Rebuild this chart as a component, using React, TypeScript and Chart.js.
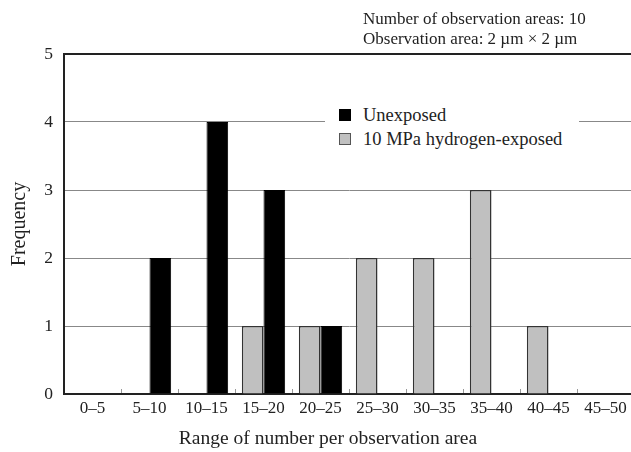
import React, { useEffect, useRef } from "react";
import { Chart, registerables } from "chart.js";

Chart.register(...registerables);

const categories = ["0–5", "5–10", "10–15", "15–20", "20–25", "25–30", "30–35", "35–40", "40–45", "45–50"];
const unexposed = [0, 2, 4, 3, 1, 0, 0, 0, 0, 0];
const hydrogenExposed = [0, 0, 0, 1, 1, 2, 2, 3, 1, 0];
const seriesLabels = ["Unexposed", "10 MPa hydrogen-exposed"];
const infoLines = ["Number of observation areas: 10", "Observation area: 2 µm × 2 µm"];
const yTitle = "Frequency";
const xTitle = "Range of number per observation area";

const FONT = "'Liberation Serif', 'Times New Roman', serif";
const BLACK = "#000000";
const GRAY = "#c0c0c0";

const innerTicks = {
  id: "innerTicks",
  afterDatasetsDraw(chart: any) {
    const x = chart.scales.x;
    const bottom = chart.chartArea.bottom;
    const ctx = chart.ctx;
    ctx.save();
    ctx.strokeStyle = "#999";
    ctx.lineWidth = 1;
    for (let i = 1; i < categories.length; i++) {
      const px = Math.round((x.getPixelForValue(i - 1) + x.getPixelForValue(i)) / 2) + 0.5;
      ctx.beginPath();
      ctx.moveTo(px, bottom - 1);
      ctx.lineTo(px, bottom - 5);
      ctx.stroke();
    }
    ctx.restore();
  },
};

export default function App() {
  const ref = useRef<HTMLCanvasElement>(null);

  useEffect(() => {
    if (!ref.current) return;
    const chart = new Chart(ref.current, {
      type: "bar",
      data: {
        labels: categories,
        datasets: [
          {
            label: seriesLabels[1],
            data: hydrogenExposed,
            backgroundColor: GRAY,
            borderColor: "#333",
            borderWidth: 1.5,
          },
          {
            label: seriesLabels[0],
            data: unexposed,
            backgroundColor: BLACK,
            borderColor: BLACK,
            borderWidth: 1,
          },
        ],
      },
      plugins: [innerTicks],
      options: {
        responsive: false,
        animation: false,
        devicePixelRatio: 1,
        layout: { padding: { top: 54, right: 6, left: 0, bottom: 0 } },
        datasets: { bar: { categoryPercentage: 0.76, barPercentage: 1.0 } },
        plugins: {
          legend: { display: false },
          tooltip: { enabled: false },
        },
        scales: {
          x: {
            grid: { display: false, drawTicks: false },
            border: { display: true, color: "#222", width: 2 },
            ticks: {
              color: "#222",
              font: { family: FONT, size: 17 },
              padding: 4,
              maxRotation: 0,
              autoSkip: false,
            },
            title: { display: false },
            afterFit: (s: any) => {
              s.height = 58;
            },
          },
          y: {
            min: 0,
            max: 5,
            ticks: {
              stepSize: 1,
              color: "#222",
              font: { family: FONT, size: 17.5 },
              padding: 11,
            },
            grid: {
              drawTicks: false,
              color: (c: any) => (c.tick && (c.tick.value === 5 || c.tick.value === 0) ? "#222" : "#888"),
              lineWidth: (c: any) => (c.tick && c.tick.value === 5 ? 2 : 1),
            },
            border: { display: true, color: "#222", width: 2 },
            title: {
              display: true,
              text: yTitle,
              color: "#222",
              font: { family: FONT, size: 20 },
              padding: { top: 8, bottom: 0 },
            },
            afterFit: (s: any) => {
              s.width = 64;
            },
          },
        },
      },
    });
    return () => chart.destroy();
  }, []);

  const textStyle: React.CSSProperties = {
    fontFamily: FONT,
    fontSize: 18.5,
    color: "#222",
    lineHeight: "20px",
    whiteSpace: "nowrap",
  };

  return (
    <div
      style={{
        position: "fixed",
        left: 0,
        top: 0,
        width: 631,
        height: 452,
        overflow: "hidden",
        background: "#fff",
      }}
    >
      <canvas ref={ref} width={640} height={452} style={{ display: "block" }} />
      <div style={{ ...textStyle, fontSize: 17, lineHeight: "20px", position: "absolute", left: 363, top: 9 }}>
        {infoLines.map((l) => (
          <div key={l}>{l}</div>
        ))}
      </div>
      <div
        style={{
          ...textStyle,
          fontSize: 19.5,
          lineHeight: "22px",
          position: "absolute",
          left: 0,
          width: 656,
          top: 427,
          textAlign: "center",
        }}
      >
        {xTitle}
      </div>
      <div
        style={{
          position: "absolute",
          left: 325,
          top: 100,
          width: 254,
          height: 50,
          background: "#fff",
        }}
      >
        {[
          { label: seriesLabels[0], color: BLACK, border: "#000" },
          { label: seriesLabels[1], color: GRAY, border: "#555" },
        ].map((item, i) => (
          <div
            key={item.label}
            style={{ position: "absolute", left: 14, top: 5 + i * 24, display: "flex", alignItems: "center" }}
          >
            <div
              style={{
                width: 10,
                height: 10,
                background: item.color,
                border: `1px solid ${item.border}`,
                marginRight: 12,
              }}
            />
            <span style={textStyle}>{item.label}</span>
          </div>
        ))}
      </div>
    </div>
  );
}
